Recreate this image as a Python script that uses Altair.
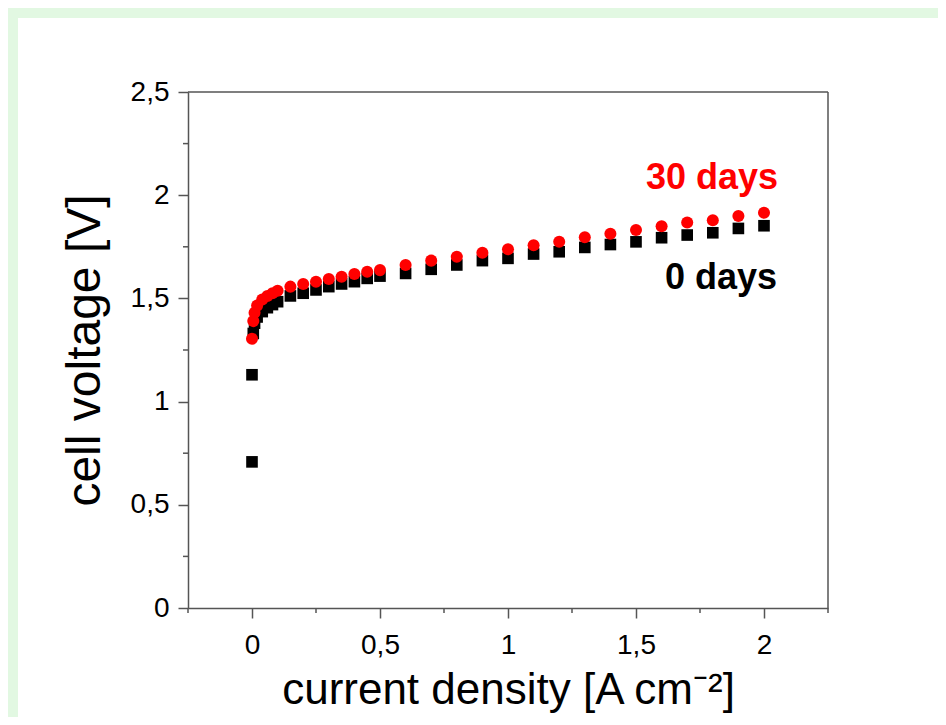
import altair as alt
import pandas as pd

# ---- data ----
x_low = [0, 0.005, 0.01, 0.02, 0.04, 0.06, 0.08, 0.1, 0.15, 0.2, 0.25, 0.3, 0.35, 0.4, 0.45, 0.5]
x_high = [0.6, 0.7, 0.8, 0.9, 1.0, 1.1, 1.2, 1.3, 1.4, 1.5, 1.6, 1.7, 1.8, 1.9, 2.0]

days0_x = [0] + x_low + x_high
days0_v = ([0.708] +
           [1.13, 1.33, 1.38, 1.41, 1.436, 1.455, 1.47, 1.484, 1.512, 1.525, 1.541, 1.557, 1.570, 1.581, 1.597, 1.608] +
           [1.621, 1.641, 1.662, 1.683, 1.694, 1.715, 1.726, 1.747, 1.761, 1.774, 1.794, 1.807, 1.818, 1.839, 1.852])

days30_x = x_low + x_high
days30_v = ([1.305, 1.39, 1.43, 1.465, 1.495, 1.512, 1.525, 1.537, 1.557, 1.570, 1.581, 1.594, 1.605, 1.618, 1.629, 1.637] +
            [1.662, 1.683, 1.702, 1.721, 1.738, 1.758, 1.774, 1.796, 1.813, 1.831, 1.850, 1.868, 1.879, 1.899, 1.915])

x_major = [0, 0.5, 1, 1.5, 2]
x_minor = [-0.25, 0.25, 0.75, 1.25, 1.75, 2.25]
y_major = [0, 0.5, 1, 1.5, 2, 2.5]
y_minor = [0.25, 0.75, 1.25, 1.75, 2.25]

label_30 = "30 days"
label_0 = "0 days"
x_title = "current density [A cm\u207b\u00b2]"
y_title = "cell voltage [V]"

W, H = 640, 516
FONT = "Liberation Sans"
AX = "#555555"
GREEN = "#e2f8e2"

df0 = pd.DataFrame({"j": days0_x, "v": days0_v})
df30 = pd.DataFrame({"j": days30_x, "v": days30_v})
dxm = pd.DataFrame({"j": x_minor})
dym = pd.DataFrame({"v": y_minor})
one = pd.DataFrame({"a": [0]})

xscale = alt.Scale(domain=[-0.25, 2.25], nice=False, zero=False)
yscale = alt.Scale(domain=[0, 2.5], nice=False, zero=False)

lab_expr = "replace(format(datum.value, '~g'), '.', ',')"

xaxis = alt.Axis(values=x_major, labelExpr=lab_expr, grid=False, tickSize=10, zindex=2,
                 domainColor=AX, domainWidth=1.5, tickColor=AX, tickWidth=1.5,
                 labelFontSize=28, labelPadding=13, labelFont=FONT, labelColor="#000",
                 title=x_title, titleFont=FONT, titleFontSize=44, titleFontWeight="normal",
                 titleColor="#000", titleX=W / 2, titleY=95, titleBaseline="alphabetic",
                 titleAnchor="middle", titleAlign="center")
yaxis = alt.Axis(values=y_major, labelExpr=lab_expr, grid=False, tickSize=10, zindex=2,
                 domainColor=AX, domainWidth=1.5, tickColor=AX, tickWidth=1.5,
                 labelFontSize=28, labelPadding=9, labelFont=FONT, labelColor="#000",
                 title=y_title, titleFont=FONT, titleFontSize=48, titleFontWeight="normal",
                 titleColor="#000", titleAngle=-90, titleX=-103, titleY=H / 2,
                 titleBaseline="middle", titleAlign="center")

# light green border strips (left and top) of the surrounding panel
green_left = alt.Chart(one).mark_rect(color=GREEN).encode(
    x=alt.value(-190), x2=alt.value(-170), y=alt.value(-100), y2=alt.value(700))
green_top = alt.Chart(one).mark_rect(color=GREEN).encode(
    x=alt.value(-190), x2=alt.value(800), y=alt.value(-100), y2=alt.value(-74))

frame_top = alt.Chart(one).mark_rule(color=AX, strokeWidth=1.5).encode(
    x=alt.value(0), x2=alt.value(W), y=alt.value(0))
frame_right = alt.Chart(one).mark_rule(color=AX, strokeWidth=1.5).encode(
    x=alt.value(W), y=alt.value(0), y2=alt.value(H))

xmin_ticks = alt.Chart(dxm).mark_rule(color=AX, strokeWidth=1.5).encode(
    x=alt.X("j:Q", scale=xscale, axis=xaxis), y=alt.value(H), y2=alt.value(H + 5))
ymin_ticks = alt.Chart(dym).mark_rule(color=AX, strokeWidth=1.5).encode(
    y=alt.Y("v:Q", scale=yscale, axis=yaxis), x=alt.value(-5), x2=alt.value(0))

sq = alt.Chart(df0).mark_point(shape="square", filled=True, color="#000000", size=135, opacity=1).encode(
    x=alt.X("j:Q", scale=xscale, axis=xaxis), y=alt.Y("v:Q", scale=yscale, axis=yaxis))
ci = alt.Chart(df30).mark_circle(color="#ff0000", size=145, opacity=1).encode(
    x=alt.X("j:Q", scale=xscale, axis=xaxis), y=alt.Y("v:Q", scale=yscale, axis=yaxis))

t30 = alt.Chart(one).mark_text(text=label_30, color="#ff0000", font=FONT, fontSize=36,
                               fontWeight="bold", align="right", baseline="alphabetic").encode(
    x=alt.value(590), y=alt.value(97))
t0 = alt.Chart(one).mark_text(text=label_0, color="#000000", font=FONT, fontSize=36,
                              fontWeight="bold", align="right", baseline="alphabetic").encode(
    x=alt.value(589), y=alt.value(197))

chart = alt.layer(green_left, green_top, xmin_ticks, ymin_ticks, sq, ci, frame_top, frame_right, t30, t0).properties(
    width=W, height=H,
    padding={"left": 180, "top": 84, "right": 110, "bottom": 109},
    autosize=alt.AutoSizeParams(type="none"),
).configure(background="white").configure_view(stroke=None).configure_axis(zindex=2)

chart.save("out.html", embed_options={"renderer": "svg", "actions": False})
